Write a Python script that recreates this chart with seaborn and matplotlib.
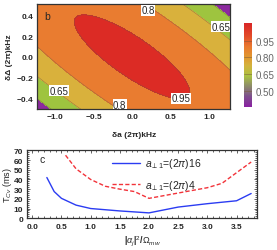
import numpy as np
import pandas as pd
import seaborn as sns
import matplotlib.pyplot as plt
from matplotlib.colors import LinearSegmentedColormap, Normalize
from matplotlib.cm import ScalarMappable
from matplotlib.ticker import MultipleLocator

# --- panel b: fidelity map, quadratic-form model ---
quad_A, quad_B, quad_C = 0.139, 0.213, 0.471   # Q = A x^2 + 2B xy + C y^2
prof_a, prof_b = 0.215, 0.697                  # 1 - F = a sqrt(Q) + b Q
levels = [0.35, 0.5, 0.65, 0.8, 0.95, 1.105]
band_colors = ['#8c2a9e', '#9ec43f', '#d9b13c', '#e97c30', '#dc2b25']
cbar_ticks = [0.5, 0.65, 0.8, 0.95]
cbar_labels = ['0.50', '0.65', '0.80', '0.95']
contour_labels = [('0.8', 0.21, 0.45), ('0.65', 1.15, 0.29), ('0.65', -0.95, -0.33),
                  ('0.8', -0.16, -0.465), ('0.95', 0.64, -0.40)]

# --- panel c: coherence time curves ---
blue_x = [0.25, 0.375, 0.5, 0.75, 1.0, 1.5, 2.0, 2.5, 3.0, 3.5, 3.75]
blue_y = [42, 27.5, 20.5, 13.5, 10, 7.5, 5.5, 11.5, 15, 18, 25.5]
red_x = [0.57, 0.75, 1.0, 1.25, 1.5, 1.75, 2.0, 2.5, 3.0, 3.25, 3.5, 3.75]
red_y = [65, 51, 40, 33, 30, 27.5, 20.5, 26, 31.5, 36, 47, 58]
blue_label = r'$a_{\perp 1}$=(2$\pi$)16'
red_label = r'$a_{\perp 1}$=(2$\pi$)4'

sns.set_style('ticks')
plt.rcParams['font.family'] = ['Liberation Sans', 'DejaVu Sans']
plt.rcParams['mathtext.fontset'] = 'custom'
plt.rcParams['mathtext.rm'] = 'Liberation Sans'
plt.rcParams['mathtext.it'] = 'Liberation Sans:italic'
plt.rcParams['mathtext.bf'] = 'Liberation Sans:bold'

fig = plt.figure(figsize=(2.77, 2.51), dpi=100)
ax1 = fig.add_axes([0.1347, 0.5617, 0.6955, 0.4196])
cax = fig.add_axes([0.882, 0.5685, 0.0267, 0.3347])
ax2 = fig.add_axes([0.0986, 0.1255, 0.8292, 0.2725])

# contour field
gx = np.linspace(-1.3, 1.3, 261)
gy = np.linspace(-0.55, 0.55, 221)
X, Y = np.meshgrid(gx, gy)
Q = quad_A * X**2 + 2 * quad_B * X * Y + quad_C * Y**2
F = 1 - prof_a * np.sqrt(Q) - prof_b * Q
F = np.clip(F, levels[0] + 1e-6, None)
ax1.contourf(X, Y, F, levels=levels, colors=band_colors)
ax1.contour(X, Y, F, levels=levels[1:-1], colors='#6b5a45', linewidths=0.4, alpha=0.6)
for txt, tx, ty in contour_labels:
    ax1.text(tx, ty, txt, fontsize=7, ha='center', va='center', clip_on=True,
             bbox=dict(boxstyle='square,pad=0.05', fc='white', ec='none'))
ax1.text(0.035, 0.88, 'b', transform=ax1.transAxes, fontsize=7.5, ha='left', va='center')
ax1.set_xlim(-1.23, 1.27)
ax1.set_ylim(-0.505, 0.515)
ax1.xaxis.set_major_locator(MultipleLocator(0.5))
ax1.xaxis.set_minor_locator(MultipleLocator(0.1))
ax1.yaxis.set_major_locator(MultipleLocator(0.2))
ax1.yaxis.set_minor_locator(MultipleLocator(0.05))
ax1.set_xlabel('δa (2π)kHz', fontsize=6, fontweight='bold')
ax1.xaxis.set_label_coords(0.5, -0.21)
ax1.set_ylabel('δΔ (2π)kHz', fontsize=6, fontweight='bold')
ax1.yaxis.set_label_coords(-0.128, 0.5)

# colorbar
cmap = LinearSegmentedColormap.from_list('fid', [
    (0.0, '#8a1fa2'), (0.13, '#7d4f8c'), (0.25, '#8c8a6a'), (0.37, '#a9c142'),
    (0.5, '#d4b23c'), (0.6, '#e0962f'), (0.72, '#e97a2f'), (0.85, '#e24a28'), (1.0, '#d92727')])
sm = ScalarMappable(norm=Normalize(levels[0], levels[-1]), cmap=cmap)
cb = fig.colorbar(sm, cax=cax, ticks=cbar_ticks)
cb.ax.set_yticklabels(cbar_labels)
cb.outline.set_visible(False)
cax.tick_params(axis='y', length=0, labelsize=7, labelcolor='#666666', pad=3)
for t in cbar_ticks:
    cax.axhline(t, color='#7a5a3a', lw=0.5, alpha=0.7)

# curves
df = pd.concat([
    pd.DataFrame({'x': blue_x, 'y': blue_y, 'series': blue_label}),
    pd.DataFrame({'x': red_x, 'y': red_y, 'series': red_label}),
])
sns.lineplot(data=df, x='x', y='y', hue='series', style='series', ax=ax2,
             palette={blue_label: '#2b3cf2', red_label: '#f2333a'},
             dashes={blue_label: '', red_label: (3, 1.6)}, linewidth=1.0,
             estimator=None, sort=False)
ax2.legend(loc='upper left', bbox_to_anchor=(0.35, 0.97), frameon=False, fontsize=7.5,
           handlelength=2.7, labelspacing=0.7, handletextpad=0.5, borderaxespad=0)
ax2.text(0.055, 0.87, 'c', transform=ax2.transAxes, fontsize=7.5, ha='left', va='center')
ax2.set_xlim(-0.085, 3.85)
ax2.set_ylim(-0.3, 70.3)
ax2.xaxis.set_major_locator(MultipleLocator(0.5))
ax2.xaxis.set_minor_locator(MultipleLocator(0.1))
ax2.yaxis.set_major_locator(MultipleLocator(10))
ax2.yaxis.set_minor_locator(MultipleLocator(2))
ax2.set_xlabel(r'|$\alpha_j$|$^2$/$\Omega_{mw}$', fontsize=6.5, fontweight='bold')
ax2.xaxis.set_label_coords(0.5, -0.22)
ax2.set_ylabel(r'T$_{Cv}$ (ms)', fontsize=6.5)
ax2.yaxis.set_label_coords(-0.06, 0.5)

for ax in (ax1, ax2):
    ax.tick_params(which='both', direction='in', top=True, right=True, width=0.5,
                   color='#222222', labelsize=6, pad=3)
    ax.tick_params(which='major', length=2.5)
    ax.tick_params(which='minor', length=1.3)
    for lab in ax.get_xticklabels() + ax.get_yticklabels():
        lab.set_fontweight('bold')
    for s in ax.spines.values():
        s.set_linewidth(0.9)
        s.set_color('#333333')

fig.savefig('out.png', dpi=100)
